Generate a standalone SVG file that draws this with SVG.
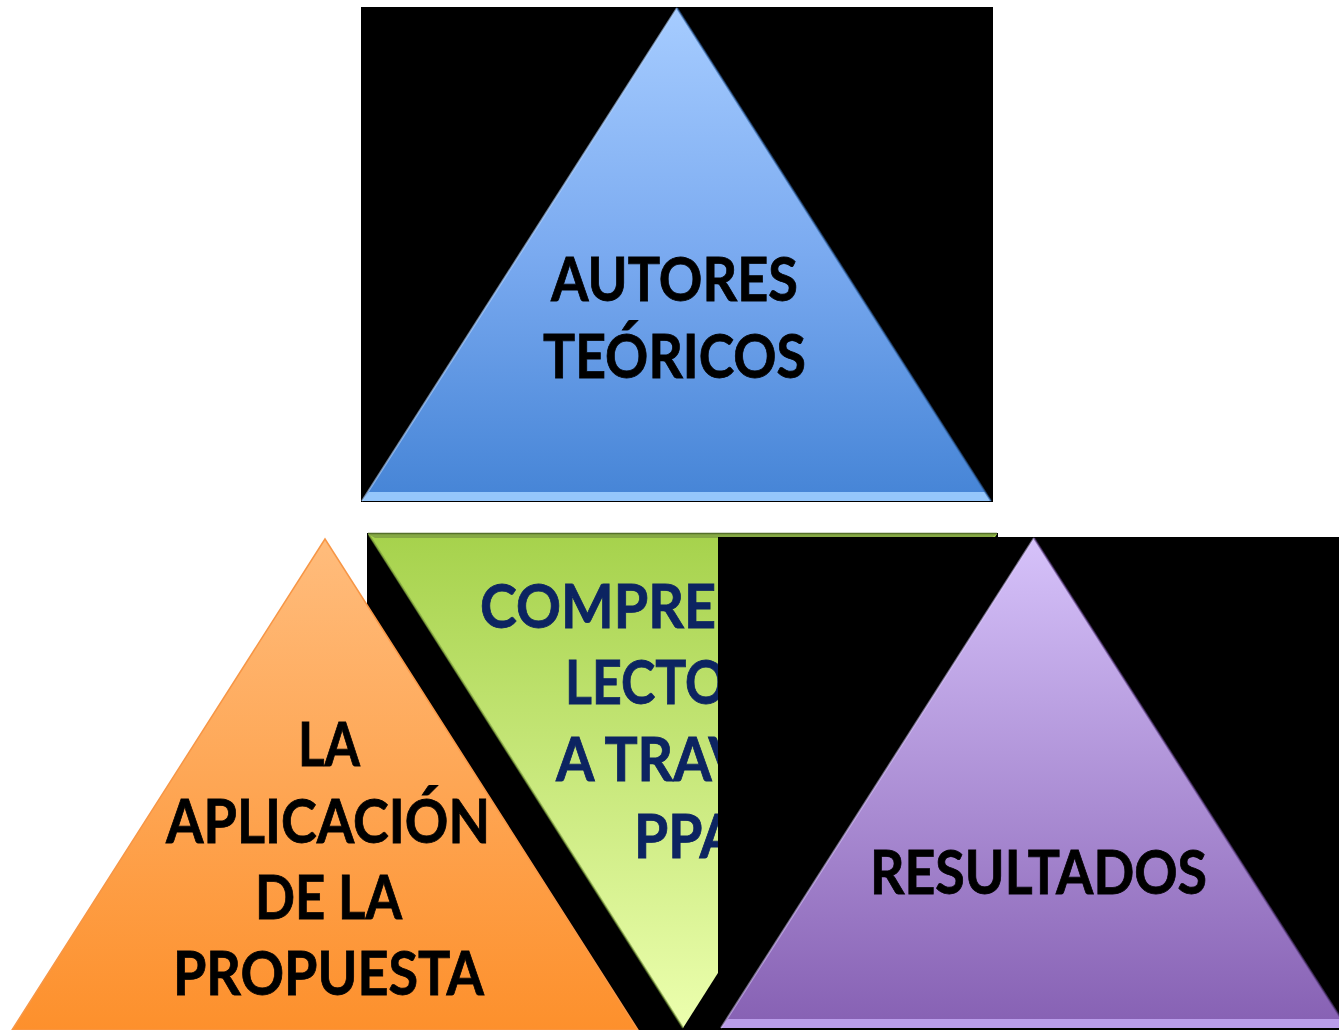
<svg xmlns="http://www.w3.org/2000/svg" width="1339" height="1030" viewBox="0 0 1339 1030">
<defs>
<linearGradient id="gBlue" x1="0" y1="0" x2="0" y2="1">
<stop offset="0" stop-color="#a6ccff"/>
<stop offset="0.5" stop-color="#7aaaf0"/>
<stop offset="1" stop-color="#4584d6"/>
</linearGradient>
<linearGradient id="gOrange" x1="0" y1="0" x2="0" y2="1">
<stop offset="0" stop-color="#ffbc7c"/>
<stop offset="1" stop-color="#fd902c"/>
</linearGradient>
<linearGradient id="gGreen" x1="0" y1="0" x2="0" y2="1">
<stop offset="0" stop-color="#a6d24c"/>
<stop offset="1" stop-color="#ecffae"/>
</linearGradient>
<linearGradient id="gPurple" x1="0" y1="0" x2="0" y2="1">
<stop offset="0" stop-color="#d6c2fa"/>
<stop offset="1" stop-color="#8660b3"/>
</linearGradient>
<clipPath id="cPurple"><rect x="718" y="537" width="621" height="493"/></clipPath>
</defs>
<style>
.lbl{font-family:Lato,"Open Sans","Liberation Sans",sans-serif;font-weight:bold;font-size:61px;fill:#000;stroke:#000;stroke-width:0.8}
.nv{fill:#0c2461;stroke:#0c2461}
.bg{fill:#000}
</style>
<rect width="1339" height="1030" fill="#fff"/>

<g id="node-autores">
<rect class="bg" x="361" y="7" width="632" height="495"/>
<polygon points="677,8 991,501 362,501" fill="url(#gBlue)"/>
<polygon points="369,492 985,492 991,501 362,501" fill="#9dcdff" opacity="0.9"/>
<polyline points="362,501 677,8" fill="none" stroke="#b5d6ff" stroke-width="2" opacity="0.6"/>
<polyline points="677,8 991,501" fill="none" stroke="#2f5f9e" stroke-width="2" opacity="0.6"/>
<text class="lbl" x="551" y="301" textLength="247" lengthAdjust="spacingAndGlyphs">AUTORES</text>
<text class="lbl" x="543" y="378" textLength="263" lengthAdjust="spacingAndGlyphs">TEÓRICOS</text>
</g>

<g id="node-comprension">
<rect class="bg" x="367" y="533" width="631" height="497"/>
<polygon points="368,534 997,534 683,1028" fill="url(#gGreen)"/>
<polygon points="368,534 997,534 991,538 375,538" fill="#86a845"/>
<line x1="368" y1="533.5" x2="997" y2="533.5" stroke="#55702a" stroke-width="1.5"/>
<line x1="369" y1="535" x2="683" y2="1028" stroke="#6f8f35" stroke-width="2" opacity="0.6"/>
<text class="lbl nv" x="480" y="628" textLength="236" lengthAdjust="spacingAndGlyphs">COMPRE</text>
<text class="lbl nv" x="565" y="704" textLength="162" lengthAdjust="spacingAndGlyphs">LECTO</text>
<text class="lbl nv" x="556" y="781" textLength="191" lengthAdjust="spacingAndGlyphs">A TRAV</text>
<text class="lbl nv" x="634" y="858" textLength="104" lengthAdjust="spacingAndGlyphs">PPA</text>
</g>

<g id="node-aplicacion">
<polygon points="325,539 638,1030 12,1030" fill="url(#gOrange)" stroke="#f79646" stroke-width="1.5"/>
<text class="lbl" x="298" y="766" textLength="62" lengthAdjust="spacingAndGlyphs">LA</text>
<text class="lbl" x="166" y="843" textLength="324" lengthAdjust="spacingAndGlyphs">APLICACIÓN</text>
<text class="lbl" x="255" y="919" textLength="147" lengthAdjust="spacingAndGlyphs">DE LA</text>
<text class="lbl" x="173" y="995" textLength="311" lengthAdjust="spacingAndGlyphs">PROPUESTA</text>
</g>

<g id="node-resultados">
<rect class="bg" x="718" y="537" width="621" height="493"/>
<g clip-path="url(#cPurple)">
<polygon points="1034,538 1347,1028 721,1028" fill="url(#gPurple)"/>
<polygon points="728,1019 1341,1019 1347,1028 721,1028" fill="#c0a4f0" opacity="0.9"/>
<line x1="721" y1="1028" x2="1034" y2="538" stroke="#e0d0ff" stroke-width="2" opacity="0.5"/>
<line x1="1034" y1="538" x2="1347" y2="1028" stroke="#5a3d80" stroke-width="2" opacity="0.6"/>
</g>
<text class="lbl" x="870" y="894" textLength="337" lengthAdjust="spacingAndGlyphs">RESULTADOS</text>
</g>

<g id="connectors"/>
</svg>
